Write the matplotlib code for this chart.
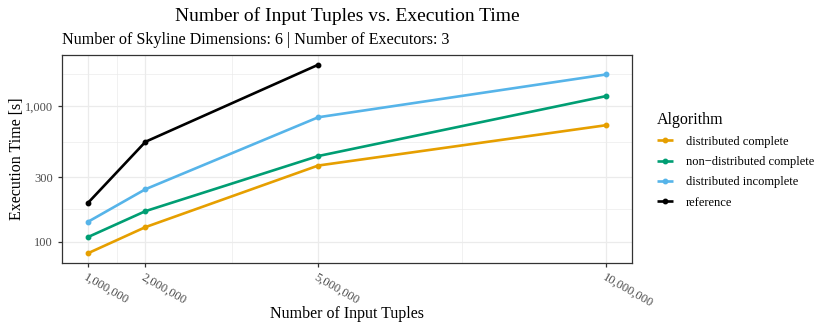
import matplotlib
matplotlib.use("Agg")
import matplotlib.pyplot as plt
import numpy as np
from matplotlib.ticker import FixedLocator, FuncFormatter, NullFormatter

plt.rcParams["font.family"] = ["Liberation Serif", "DejaVu Serif"]

# data
tuples = [1_000_000, 2_000_000, 5_000_000, 10_000_000]
dist_complete = [82, 128, 365, 725]
nondist_complete = [108, 168, 429, 1190]
dist_incomplete = [140, 244, 830, 1720]
reference_tuples = [1_000_000, 2_000_000, 5_000_000]
reference = [193, 547, 2030]

series = [
    ("distributed complete", tuples, dist_complete, "#E69F00"),
    ("non\u2212distributed complete", tuples, nondist_complete, "#009E73"),
    ("distributed incomplete", tuples, dist_incomplete, "#56B4E9"),
    ("reference", reference_tuples, reference, "#000000"),
]

x_breaks = [1_000_000, 2_000_000, 5_000_000, 10_000_000]
y_breaks = [100, 300, 1000]

fig = plt.figure(figsize=(8.3, 3.32), dpi=100)
ax = fig.add_axes([62 / 830, 1 - 262.7 / 332, 570 / 830, 207.4 / 332])

for label, xs, ys, color in series:
    ax.plot(xs, ys, color=color, lw=1.9, marker="o", ms=3.2, label=label,
            solid_capstyle="butt", zorder=3)

ax.set_yscale("log")

# ggplot-style 5% expansion
xmin, xmax = min(tuples), max(tuples)
xr = xmax - xmin
ax.set_xlim(xmin - 0.05 * xr, xmax + 0.05 * xr)
all_y = np.log10(dist_complete + nondist_complete + dist_incomplete + reference)
yr = all_y.max() - all_y.min()
ax.set_ylim(10 ** (all_y.min() - 0.05 * yr), 10 ** (all_y.max() + 0.05 * yr))

ax.xaxis.set_major_locator(FixedLocator(x_breaks))
x_minor = [(a + b) / 2 for a, b in zip(x_breaks[:-1], x_breaks[1:])]
ax.xaxis.set_minor_locator(FixedLocator(x_minor))
ax.xaxis.set_major_formatter(FuncFormatter(lambda v, p: f"{int(v):,}"))

ax.yaxis.set_major_locator(FixedLocator(y_breaks))
y_ext = [30] + y_breaks + [3000]
y_minor = [10 ** ((np.log10(a) + np.log10(b)) / 2) for a, b in zip(y_ext[:-1], y_ext[1:])]
ax.yaxis.set_minor_locator(FixedLocator(y_minor))
ax.yaxis.set_major_formatter(FuncFormatter(lambda v, p: f"{int(v):,}"))
ax.yaxis.set_minor_formatter(NullFormatter())

ax.grid(True, which="major", color="#EBEBEB", lw=0.9)
ax.grid(True, which="minor", color="#EBEBEB", lw=0.5)
ax.set_axisbelow(True)
for s in ax.spines.values():
    s.set_color("#333333")
    s.set_linewidth(0.9)

ax.tick_params(which="major", length=3, width=0.9, color="#333333",
               labelcolor="#4D4D4D", labelsize=9)
ax.tick_params(which="minor", length=0)
for lab in ax.get_xticklabels():
    lab.set_rotation(-30)
    lab.set_ha("left")
    lab.set_va("top")
    lab.set_rotation_mode("anchor")

ax.set_xlabel("Number of Input Tuples", fontsize=11.5)
ax.xaxis.set_label_coords(0.5, (262.7 - 314) / 207.4)
ax.xaxis.label.set_va("center")
ax.set_ylabel("Execution Time [s]", fontsize=11.5)
ax.yaxis.set_label_coords((17 - 62) / 570, 0.5)
ax.yaxis.label.set_va("center")

fig.text(347 / 830, 1 - 16 / 332, "Number of Input Tuples vs. Execution Time",
         ha="center", va="center", fontsize=14)
fig.text(62 / 830, 1 - 40 / 332, "Number of Skyline Dimensions: 6 | Number of Executors: 3",
         ha="left", va="center", fontsize=11.6)

leg = ax.legend(title="Algorithm", loc="center left",
                bbox_to_anchor=(652 / 830, 1 - 160 / 332),
                bbox_transform=fig.transFigure, frameon=False, fontsize=9,
                title_fontsize=11.5, handlelength=1.3, handletextpad=1.0,
                labelspacing=0.66, borderaxespad=0)
leg._legend_box.align = "left"

fig.savefig("out.png", dpi=100)
